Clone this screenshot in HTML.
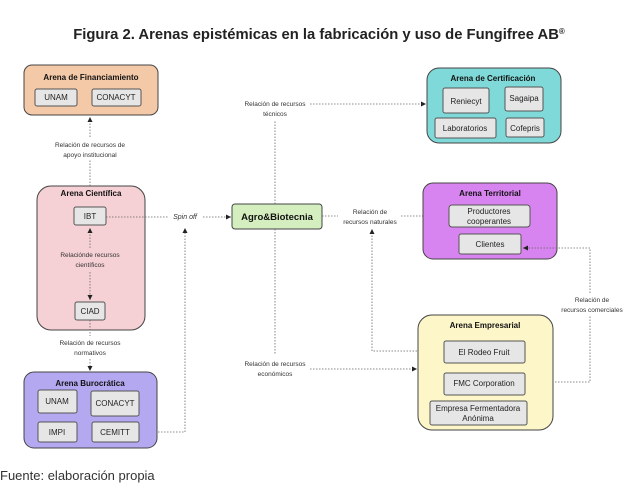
<!DOCTYPE html>
<html><head><meta charset="utf-8"><style>
html,body{margin:0;padding:0;background:#fff;width:628px;height:498px;overflow:hidden}
svg{display:block}
text{font-family:"Liberation Sans",sans-serif}
.t{font-size:8px;font-weight:bold;text-anchor:middle;fill:#111}
.n{font-size:8px;text-anchor:middle;fill:#222}
.l{font-size:6.5px;text-anchor:middle;fill:#333}
.ib{fill:#e6e6e6;stroke:#555;stroke-width:1}
.d{stroke:#666;stroke-width:0.8;stroke-dasharray:1.5,1.5;fill:none}
</style></head><body>
<svg width="628" height="498" viewBox="0 0 628 498">
<defs><marker id="a" markerWidth="6" markerHeight="6" refX="5" refY="3" orient="auto" markerUnits="userSpaceOnUse"><path d="M0,0.5 L5,3 L0,5.5z" fill="#222"/></marker></defs>
<text x="319" y="39" style="font-size:14.8px;font-weight:bold;text-anchor:middle;fill:#222">Figura 2. Arenas epistémicas en la fabricación y uso de Fungifree AB<tspan style="font-size:8px" dy="-5">®</tspan></text>

<rect x="24" y="65" width="134" height="50" rx="8" fill="#f4c9a8" stroke="#444"/>
<text class="t" x="91" y="80">Arena de Financiamiento</text>
<rect class="ib" x="35" y="89" width="42" height="17" rx="2"/><text class="n" x="56" y="100">UNAM</text>
<rect class="ib" x="92" y="89" width="49" height="17" rx="2"/><text class="n" x="116" y="100">CONACYT</text>

<rect x="37" y="186" width="108" height="144" rx="14" fill="#f5d0d4" stroke="#444"/>
<text class="t" x="91" y="196">Arena Científica</text>
<rect class="ib" x="74" y="207" width="32" height="18" rx="2"/><text class="n" x="90" y="219">IBT</text>
<rect class="ib" x="75" y="302" width="30" height="18" rx="2"/><text class="n" x="90" y="314">CIAD</text>
<text class="l" x="90" y="257">Relaciónde recursos</text><text class="l" x="90" y="267">científicos</text>
<path class="d" d="M90 248 V228" marker-end="url(#a)"/>
<path class="d" d="M90 272 V300" marker-end="url(#a)"/>

<path class="d" d="M90 186 V160"/><path class="d" d="M90 137 V117" marker-end="url(#a)"/>
<text class="l" x="90" y="147">Relación de recursos de</text><text class="l" x="90" y="157">apoyo institucional</text>

<path class="d" d="M106 217 H168"/>
<text x="185" y="219" style="font-size:7px;font-style:italic;text-anchor:middle;fill:#333">Spin off</text>
<path class="d" d="M203 217 H231" marker-end="url(#a)"/>
<path class="d" d="M140 432 H185 V228" marker-end="url(#a)"/>

<rect x="232" y="204" width="90" height="25" rx="3" fill="#d5eec0" stroke="#444"/>
<text x="277" y="220" style="font-size:9.5px;font-weight:bold;text-anchor:middle;fill:#111">Agro&amp;Biotecnia</text>

<path class="d" d="M275 204 V120"/>
<text class="l" x="275" y="106">Relación de recursos</text><text class="l" x="275" y="116">técnicos</text>
<path class="d" d="M310 104 H426" marker-end="url(#a)"/>

<rect x="427" y="68" width="134" height="75" rx="12" fill="#7fd9d9" stroke="#444"/>
<text class="t" x="493" y="81">Arena de Certificación</text>
<rect class="ib" x="443" y="88" width="46" height="25" rx="2"/><text class="n" x="466" y="104">Reniecyt</text>
<rect class="ib" x="505" y="87" width="38" height="24" rx="2"/><text class="n" x="524" y="101">Sagaipa</text>
<rect class="ib" x="435" y="118" width="61" height="20" rx="2"/><text class="n" x="465" y="131">Laboratorios</text>
<rect class="ib" x="506" y="118" width="38" height="19" rx="2"/><text class="n" x="525" y="131">Cofepris</text>

<path class="d" d="M322 216 H338"/>
<text class="l" x="370" y="214">Relación de</text><text class="l" x="370" y="224">recursos naturales</text>
<path class="d" d="M401 216 H447" marker-end="url(#a)"/>
<path class="d" d="M444 351 H372 V229" marker-end="url(#a)"/>

<rect x="423" y="183" width="134" height="76" rx="10" fill="#d783f0" stroke="#444"/>
<text class="t" x="490" y="196">Arena Territorial</text>
<rect class="ib" x="449" y="205" width="81" height="22" rx="3"/><text class="n" x="489" y="214">Productores</text><text class="n" x="489" y="224">cooperantes</text>
<rect class="ib" x="459" y="234" width="62" height="20" rx="2"/><text class="n" x="490" y="247">Clientes</text>

<path class="d" d="M275 229 V355"/>
<text class="l" x="275" y="366">Relación de recursos</text><text class="l" x="275" y="376">económicos</text>
<path class="d" d="M310 369 H417" marker-end="url(#a)"/>

<path class="d" d="M525 382 H590 V316"/><path class="d" d="M590 293 V248 H523" marker-end="url(#a)"/>
<text class="l" x="592" y="302">Relación de</text><text class="l" x="592" y="312">recursos comerciales</text>

<rect x="418" y="315" width="135" height="115" rx="14" fill="#fdf6c8" stroke="#444"/>
<text class="t" x="485" y="328">Arena Empresarial</text>
<rect class="ib" x="444" y="341" width="81" height="22" rx="2"/><text class="n" x="484" y="355">El Rodeo Fruit</text>
<rect class="ib" x="444" y="373" width="81" height="22" rx="2"/><text class="n" x="484" y="386">FMC Corporation</text>
<rect class="ib" x="430" y="401" width="97" height="24" rx="2"/><text class="n" x="478" y="411">Empresa Fermentadora</text><text class="n" x="478" y="421">Anónima</text>

<path class="d" d="M90 320 V336"/>
<text class="l" x="90" y="345">Relación de recursos</text><text class="l" x="90" y="355">normativos</text>
<path class="d" d="M90 359 V371" marker-end="url(#a)"/>

<rect x="24" y="372" width="133" height="76" rx="10" fill="#b4a9f0" stroke="#444"/>
<text class="t" x="90" y="386">Arena Burocrática</text>
<rect class="ib" x="38" y="390" width="39" height="23" rx="2"/><text class="n" x="57" y="404">UNAM</text>
<rect class="ib" x="91" y="391" width="48" height="25" rx="2"/><text class="n" x="115" y="406">CONACYT</text>
<rect class="ib" x="38" y="422" width="39" height="20" rx="2"/><text class="n" x="57" y="435">IMPI</text>
<rect class="ib" x="92" y="422" width="47" height="20" rx="2"/><text class="n" x="115" y="435">CEMITT</text>

<text x="0" y="480" style="font-size:13px;fill:#333">Fuente: elaboración propia</text>
</svg>
</body></html>
